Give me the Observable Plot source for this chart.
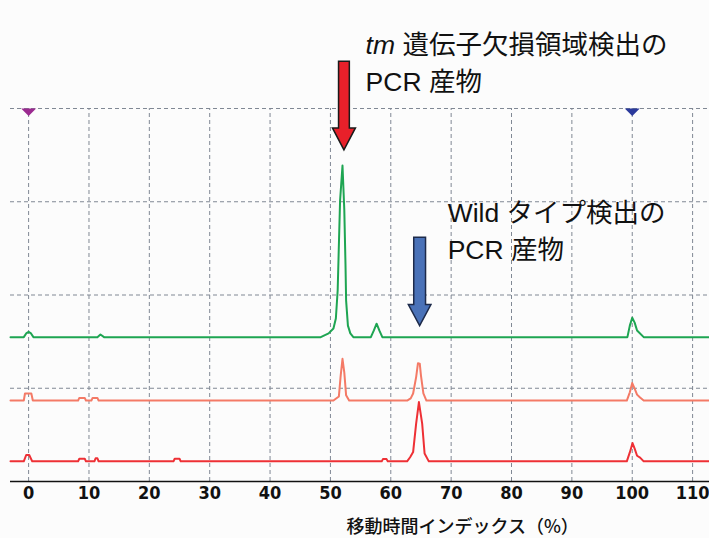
<!DOCTYPE html>
<html>
<head>
<meta charset="utf-8">
<script src="https://cdn.jsdelivr.net/npm/d3@7"></script>
<script src="https://cdn.jsdelivr.net/npm/@observablehq/plot@0.6"></script>
<style>
  html, body { margin: 0; padding: 0; background: #fcfcfc; }
</style>
</head>
<body>
<script>
// ---- data (x = 移動時間インデックス %, y = signal, stacked lanes) ----
const xTicks = [0, 10, 20, 30, 40, 50, 60, 70, 80, 90, 100, 110];
const gridY = [25, 50, 75, 100];

// green lane (tm deletion detection)
const greenTrace = [
  [-3, 38.7], [-0.8, 38.7], [-0.4, 39.7], [0, 40.1], [0.4, 39.7], [0.8, 38.7],
  [11.4, 38.7], [11.9, 39.4], [12.5, 38.7],
  [48.4, 38.7], [49.7, 39.7], [50.5, 41.0], [50.9, 43.7], [51.2, 51.2], [51.6, 75.3],
  [52.0, 84.7], [52.3, 72.7], [52.5, 57.9], [52.6, 48.5], [52.9, 41.8], [53.3, 39.7], [53.8, 38.7],
  [56.7, 38.7], [57.2, 40.5], [57.65, 42.3], [58.1, 40.5], [58.6, 38.7],
  [99.2, 38.7], [99.6, 41.8], [100, 43.9], [100.4, 42.6], [100.8, 40.5], [101.9, 38.7],
  [113, 38.7]
];
// salmon lane
const salmonTrace = [
  [-3, 21.7], [-0.8, 21.7], [-0.6, 23.6], [0.45, 23.6], [0.7, 21.7],
  [8.2, 21.7], [8.4, 22.4], [9.3, 22.4], [9.5, 21.7],
  [10.4, 21.7], [10.6, 22.4], [11.4, 22.4], [11.6, 21.7],
  [50.5, 21.7], [51.0, 22.3], [51.4, 22.8], [51.7, 28.4], [52.0, 32.9], [52.3, 29.2], [52.6, 23.1], [53.1, 21.7],
  [62.7, 21.7], [63.3, 22.3], [63.7, 23.6], [64.2, 28.0], [64.5, 31.7], [64.8, 31.6], [65.0, 28.4], [65.4, 23.6], [65.9, 21.7],
  [99.1, 21.7], [99.6, 23.9], [100.0, 26.4], [100.4, 24.9], [100.8, 23.3], [101.3, 22.5], [101.9, 21.7],
  [113, 21.7]
];
// red lane (wild type)
const redTrace = [
  [-3, 5.4], [-0.8, 5.4], [-0.4, 7.1], [0.1, 7.1], [0.6, 5.4],
  [8.2, 5.4], [8.4, 6.1], [9.3, 6.1], [9.5, 5.4],
  [10.9, 5.4], [11.1, 6.2], [11.4, 6.2], [11.6, 5.4],
  [24.0, 5.4], [24.2, 6.1], [25.0, 6.1], [25.2, 5.4],
  [58.5, 5.4], [58.7, 6.0], [59.3, 6.0], [59.5, 5.4],
  [62.7, 5.4], [63.2, 6.5], [63.7, 7.9], [64.2, 15.5], [64.66, 21.3], [65.2, 15.5], [65.6, 7.5], [66.3, 5.4],
  [99.1, 5.4], [99.6, 7.8], [100.05, 10.3], [100.4, 8.8], [100.8, 6.9], [101.3, 6.4], [101.9, 5.4],
  [113, 5.4]
];

// size-standard markers at top
const markers = [
  { x: 0, color: "#9b2a90" },
  { x: 100, color: "#2b3a9c" }
];

// annotation texts
const annotations = [
  { x: 55.83, y: 116.9, text: "tm 遺伝子欠損領域検出の" },
  { x: 55.83, y: 107.05, text: "PCR 産物" },
  { x: 69.42, y: 71.8, text: "Wild タイプ検出の" },
  { x: 69.42, y: 61.9, text: "PCR 産物" }
];
// block arrows (tip position)
const arrows = [
  { x: 52.24, y: 88.9, fill: "#e8202a", stroke: "#1a1a1a" },
  { x: 64.78, y: 41.8, fill: "#4a72b8", stroke: "#1d2a4a" }
];
const axisTitle = "移動時間インデックス（%）";

// ---- helpers ----
const toRows = (arr) => arr.map(([x, y]) => ({ x, y }));
const downTriangle = {
  draw(context, size) {
    const r = Math.sqrt(size / Math.PI);
    context.moveTo(-r, 0);
    context.lineTo(r, 0);
    context.lineTo(0, r);
    context.closePath();
  }
};
const blockArrow = (shaftHalf, headHalf, headLen) => ({
  draw(context, l) {
    context.moveTo(0, 0);
    context.lineTo(-headHalf, -headLen);
    context.lineTo(-shaftHalf, -headLen);
    context.lineTo(-shaftHalf, -l);
    context.lineTo(shaftHalf, -l);
    context.lineTo(shaftHalf, -headLen);
    context.lineTo(headHalf, -headLen);
    context.closePath();
  }
});

const gridStyle = { stroke: "#808894", strokeDasharray: "4,3", strokeWidth: 1 };
const annoFont = "'Liberation Sans', 'Noto Sans CJK JP', sans-serif";

const plot = Plot.plot({
  width: 709,
  height: 538,
  marginLeft: 10,
  marginRight: 0,
  marginTop: 108,
  marginBottom: 57,
  style: {
    background: "transparent",
    fontFamily: "'Liberation Sans Narrow', 'DejaVu Sans Condensed', sans-serif",
    fontSize: "18px",
    fontWeight: "bold",
    color: "#111",
    overflow: "visible"
  },
  x: { domain: [-3, 112.8], ticks: xTicks, tickSize: 0, tickPadding: 5, label: null },
  y: { domain: [0, 100], axis: null },
  marks: [
    Plot.ruleX(xTicks, { y1: 0, y2: 100, ...gridStyle }),
    Plot.ruleY(gridY, gridStyle),
    Plot.ruleY([0], { stroke: "#111", strokeWidth: 1.5 }),
    Plot.line(toRows(greenTrace), { x: "x", y: "y", stroke: "#1ea552", strokeWidth: 2, strokeLinejoin: "round" }),
    Plot.line(toRows(salmonTrace), { x: "x", y: "y", stroke: "#f47a66", strokeWidth: 2, strokeLinejoin: "round" }),
    Plot.line(toRows(redTrace), { x: "x", y: "y", stroke: "#ee3035", strokeWidth: 2, strokeLinejoin: "round" }),
    ...markers.map((m) =>
      Plot.dot([m], { x: "x", y: () => 100, r: 7.5, symbol: downTriangle, fill: m.color, stroke: "none" })
    ),
    Plot.vector([arrows[0]], {
      x: "x", y: "y", length: 88.6, anchor: "start", rotate: 0,
      shape: blockArrow(5.4, 11.5, 22), fill: arrows[0].fill, stroke: arrows[0].stroke, strokeWidth: 1.5,
      strokeLinejoin: "miter"
    }),
    Plot.vector([arrows[1]], {
      x: "x", y: "y", length: 88.3, anchor: "start", rotate: 0,
      shape: blockArrow(5.9, 11.3, 21), fill: arrows[1].fill, stroke: arrows[1].stroke, strokeWidth: 1.5,
      strokeLinejoin: "miter"
    }),
    Plot.text(annotations, {
      x: "x", y: "y", text: "text", textAnchor: "start",
      fontSize: 26.5, fontFamily: annoFont, fontWeight: "normal", fill: "#111"
    }),
    Plot.text([axisTitle], {
      x: () => 71.9, y: () => -12.3, text: (d) => d,
      fontSize: 18, fontFamily: "'Noto Sans CJK JP', sans-serif", fontWeight: "500", fill: "#111"
    })
  ]
});

// italicise the gene name "tm"
plot.querySelectorAll("text").forEach((t) => {
  if (t.textContent === "tm 遺伝子欠損領域検出の") {
    const rest = t.textContent.slice(2);
    t.textContent = "";
    const ns = "http://www.w3.org/2000/svg";
    const a = document.createElementNS(ns, "tspan");
    a.setAttribute("font-style", "italic");
    a.textContent = "tm";
    const b = document.createElementNS(ns, "tspan");
    b.textContent = rest;
    t.appendChild(a);
    t.appendChild(b);
  }
});

document.body.appendChild(plot);
</script>
</body>
</html>
